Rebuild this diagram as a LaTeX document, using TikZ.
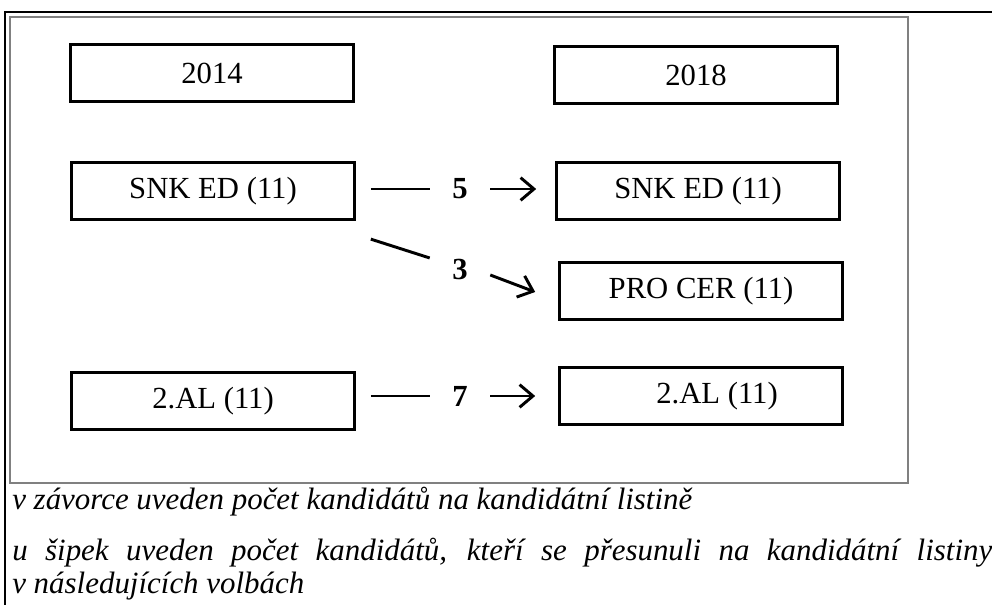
\documentclass[tikz,border=0pt]{standalone}
\usepackage{fontspec}
\setmainfont{Liberation Serif}
\usetikzlibrary{arrows.meta}

\tikzset{
  box/.style={draw,line width=2.2pt,minimum width=212pt,minimum height=43pt,inner sep=0pt,font=\fontsize{23}{26}\selectfont},
  num/.style={minimum width=45pt,inner sep=0pt,font=\fontsize{23}{26}\selectfont\bfseries},
  link/.style={line width=2.2pt},
  arr/.style={line width=2.2pt,-{Straight Barb[length=10pt,width=17pt,line width=2.2pt]}},
  note/.style={anchor=north west,inner sep=0pt,font=\fontsize{23.2}{25}\selectfont\itshape}
}

\begin{document}
\begin{tikzpicture}[x=0.75pt,y=-0.75pt]
  \useasboundingbox (0,0) rectangle (992,605);

  % frame
  \draw[line width=2.2pt] (992,12) -- (5,12) -- (5,605);
  \draw[gray,line width=0.8pt] (10,17) rectangle (908,483);

  \node[box] (y14) at (212,73) {2014};
  \node[box] (y18) at (696,75) {2018};

  \node[box] (snk14) at (213,191) {SNK ED (11)};
  \node[box] (snk18) at (698,191) {SNK ED (11)};
  \node[box] (pro18) at (701,291) {PRO CER (11)};

  \node[box] (al14) at (213,401) {2.AL (11)};
  \node[box] (al18) at (701,396) {\hspace*{24pt}2.AL (11)};

  \node[num] (n5) at (460,189) {5};
  \node[num] (n3) at (460,270) {3};
  \node[num] (n7) at (460,396) {7};

  \draw[link] ([shift={(15,-2)}]snk14.east) -- (n5.west);
  \draw[arr] (n5.east) -- ([shift={(-19,-2)}]snk18.west);

  \draw[link] ([shift={(15,18)}]snk14.south east) -- ([shift={(0,-12)}]n3.west);
  \draw[arr] ([shift={(0,5)}]n3.east) -- ([shift={(-23,1)}]pro18.west);

  \draw[link] ([shift={(15,-5)}]al14.east) -- (n7.west);
  \draw[arr] (n7.east) -- ([shift={(-23,0)}]al18.west);

  % notes below
  \node[note] (t1) at (12,487) {v závorce uveden počet kandidátů na kandidátní listině};
  \node[note,text width=735pt,align=justify] (t2) at (12,538)
    {u šipek uveden počet kandidátů, kteří se přesunuli na kandidátní listiny\linebreak v následujících volbách};
\end{tikzpicture}
\end{document}
